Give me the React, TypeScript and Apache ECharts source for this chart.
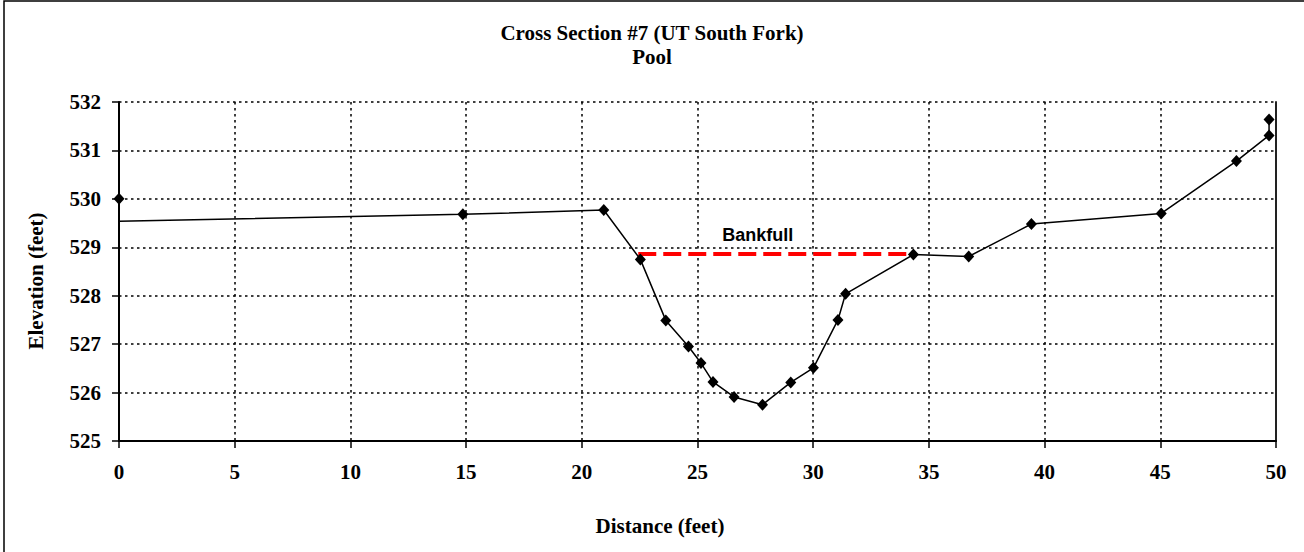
import { useEffect, useRef } from "react";
import * as echarts from "echarts";

// Surveyed cross-section points: distance along the section (ft) and ground elevation (ft)
const distance = [0, 0, 14.86, 20.95, 22.53, 23.63, 24.61, 25.15, 25.67, 26.58, 27.81, 29.03, 30.01, 31.07, 31.4, 34.33, 36.72, 39.43, 45.04, 48.29, 49.7, 49.7];
const elevation = [530.0, 529.54, 529.68, 529.77, 528.75, 527.49, 526.95, 526.61, 526.22, 525.91, 525.75, 526.21, 526.51, 527.5, 528.04, 528.85, 528.81, 529.48, 529.7, 530.78, 531.31, 531.64];
// Points plotted without a marker (index into the arrays above)
const hiddenMarkers = [1];

// Bankfull stage line
const bankfullDistance = [22.44, 34.38];
const bankfullElevation = 528.86;
const bankfullLabel = "Bankfull";
const bankfullLabelAt = [27.6, 529.25];

// Axis ranges
const xMin = 0, xMax = 50, xStep = 5;
const yMin = 525, yMax = 532, yStep = 1;

const titleText = "Cross Section #7 (UT South Fork)";
const subtitleText = "Pool";
const xAxisName = "Distance (feet)";
const yAxisName = "Elevation (feet)";

const serif = "'Liberation Serif', 'Times New Roman', serif";
const sans = "'Liberation Sans', Arial, sans-serif";

export default function App() {
  const ref = useRef<HTMLDivElement>(null);

  useEffect(() => {
    if (!ref.current) return;
    const chart = echarts.init(ref.current, undefined, { renderer: "svg" });

    const groundData = distance.map((d, i) =>
      hiddenMarkers.includes(i)
        ? { value: [d, elevation[i]], symbol: "none" }
        : { value: [d, elevation[i]] }
    );

    const gridLine = { show: true, lineStyle: { color: "#000", width: 1.5, type: [2.5, 3.5] as number[] } };

    chart.setOption({
      animation: false,
      backgroundColor: "#fff",
      title: {
        text: titleText + "\n" + subtitleText,
        left: 652,
        textAlign: "center",
        top: 21,
        padding: 0,
        textStyle: { fontFamily: serif, fontWeight: "bold", fontSize: 21, color: "#000", lineHeight: 24 },
      },
      grid: { left: 119, right: 28, top: 102, bottom: 111, containLabel: false },
      xAxis: {
        type: "value",
        min: xMin,
        max: xMax,
        interval: xStep,
        axisLine: { show: true, onZero: false, lineStyle: { color: "#000", width: 2 } },
        axisTick: { show: true, length: 7, lineStyle: { color: "#000", width: 1.5 } },
        axisLabel: { margin: 20, fontFamily: serif, fontWeight: "bold", fontSize: 21, color: "#000" },
        splitLine: gridLine,
      },
      yAxis: [
        {
          type: "value",
          min: yMin,
          max: yMax,
          interval: yStep,
          axisLine: { show: true, onZero: false, lineStyle: { color: "#000", width: 2 } },
          axisTick: { show: true, length: 7, lineStyle: { color: "#000", width: 1.5 } },
          axisLabel: { margin: 18, fontFamily: serif, fontWeight: "bold", fontSize: 21, color: "#000" },
          splitLine: gridLine,
        },
        {
          type: "value",
          position: "right",
          min: yMin,
          max: yMax,
          interval: yStep,
          axisLine: { show: true, onZero: false, lineStyle: { color: "#222", width: 2 } },
          axisTick: { show: false },
          axisLabel: { show: false },
          splitLine: { show: false },
        },
      ],
      series: [
        {
          type: "line",
          data: groundData,
          symbol: "diamond",
          symbolSize: [11, 12],
          itemStyle: { color: "#000" },
          lineStyle: { color: "#000", width: 1.5 },
          z: 3,
        },
        {
          type: "line",
          data: bankfullDistance.map((d) => [d, bankfullElevation]),
          symbol: "none",
          lineStyle: { color: "#ff0000", width: 4, type: [18, 7] },
          z: 2,
        },
        {
          type: "scatter",
          data: [bankfullLabelAt],
          symbolSize: 0,
          itemStyle: { opacity: 1, color: "#000" },
          label: {
            show: true,
            position: "inside",
            formatter: bankfullLabel,
            fontFamily: sans,
            fontWeight: "bold",
            fontSize: 18,
            color: "#000",
            textBorderWidth: 0,
          },
        },
      ],
      graphic: [
        {
          type: "rect",
          shape: { x: 4, y: 1, width: 1400, height: 700 },
          style: { fill: "none", stroke: "#000", lineWidth: 1.5 },
          silent: true,
        },
        {
          type: "text",
          x: 660,
          y: 526,
          style: {
            text: xAxisName,
            fontFamily: serif,
            fontWeight: "bold",
            fontSize: 21,
            fill: "#000",
            textAlign: "center",
            textVerticalAlign: "middle",
          },
        },
        {
          type: "text",
          x: 36,
          y: 281,
          rotation: Math.PI / 2,
          style: {
            text: yAxisName,
            fontFamily: serif,
            fontWeight: "bold",
            fontSize: 21,
            fill: "#000",
            textAlign: "center",
            textVerticalAlign: "middle",
          },
        },
      ],
    });

    return () => chart.dispose();
  }, []);

  return (
    <div
      ref={ref}
      style={{ position: "fixed", left: 0, top: 0, width: 1304, height: 552, background: "#fff" }}
    />
  );
}
